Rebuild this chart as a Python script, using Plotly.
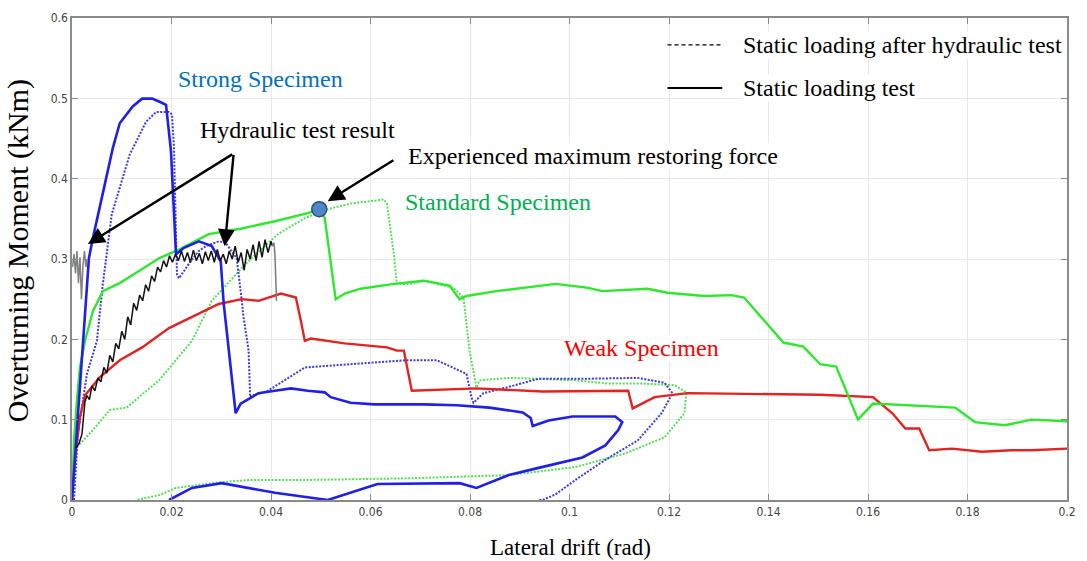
import plotly.graph_objects as go

# ---------------- data ----------------
strong_static_x = [0, 0.0022, 0.003, 0.0034, 0.0042, 0.0062, 0.0082, 0.0096, 0.0122, 0.0141, 0.0161, 0.0175, 0.0189,
                   0.0199, 0.0205, 0.0209, 0.0225, 0.0255, 0.0281, 0.0299, 0.0305, 0.0315, 0.0329, 0.0339, 0.0361,
                   0.0375, 0.0408, 0.044, 0.0474, 0.0508, 0.052, 0.056, 0.0608, 0.0707, 0.0773, 0.0839, 0.0906,
                   0.0922, 0.0926, 0.0958, 0.1006, 0.1092, 0.1106, 0.1098, 0.1072, 0.1026, 0.0938, 0.0878, 0.0813,
                   0.0779, 0.0614, 0.0514, 0.0408, 0.0301, 0.0241, 0.0195]
strong_static_y = [0, 0.2, 0.273, 0.301, 0.326, 0.384, 0.438, 0.469, 0.49, 0.4996, 0.4996, 0.496, 0.492,
                   0.434, 0.347, 0.306, 0.314, 0.322, 0.316, 0.297, 0.244, 0.186, 0.108, 0.12, 0.128,
                   0.133, 0.136, 0.139, 0.136, 0.134, 0.128, 0.121, 0.119, 0.119, 0.118, 0.115, 0.109,
                   0.102, 0.092, 0.099, 0.104, 0.104, 0.097, 0.087, 0.068, 0.053, 0.040, 0.031, 0.015,
                   0.021, 0.020, 0.0, 0.009, 0.021, 0.015, 0.0]

strong_hyd_x = [0.0004, 0.0012, 0.003, 0.005, 0.0062, 0.0076, 0.008, 0.01, 0.0116, 0.0129, 0.0149, 0.0169, 0.0195,
                0.0201, 0.0205, 0.0211, 0.0215, 0.0235, 0.0255, 0.0269, 0.0295, 0.0309, 0.0331, 0.0339, 0.0345,
                0.0355, 0.0358, 0.0362, 0.0394, 0.0468, 0.0574, 0.0673, 0.0733, 0.0759, 0.0793, 0.0803, 0.0807,
                0.0827, 0.0873, 0.0938, 0.1038, 0.1137, 0.1191, 0.1207, 0.1185, 0.1137, 0.1072, 0.1012, 0.0998,
                0.0972, 0.0946, 0.0936]
strong_hyd_y = [0, 0.083, 0.157, 0.198, 0.269, 0.338, 0.356, 0.397, 0.43, 0.446, 0.471, 0.483, 0.483,
                0.48, 0.438, 0.281, 0.276, 0.294, 0.31, 0.316, 0.322, 0.32, 0.301, 0.26, 0.227,
                0.186, 0.128, 0.13, 0.136, 0.165, 0.17, 0.174, 0.174, 0.167, 0.157, 0.128, 0.121,
                0.133, 0.14, 0.151, 0.151, 0.152, 0.146, 0.133, 0.108, 0.074, 0.05, 0.025, 0.019,
                0.007, 0.0, 0.0]

standard_static_x = [0, 0.0004, 0.001, 0.0016, 0.0026, 0.0042, 0.0062, 0.0096, 0.0129, 0.0175, 0.0209, 0.0275,
                     0.0341, 0.0408, 0.0474, 0.0498, 0.0508, 0.0524, 0.053, 0.0548, 0.058, 0.0647, 0.0707, 0.0759,
                     0.0779, 0.0793, 0.0853, 0.0972, 0.1038, 0.1066, 0.1157, 0.1197, 0.1271, 0.1325, 0.1351,
                     0.143, 0.147, 0.1504, 0.1536, 0.158, 0.161, 0.1775, 0.1815, 0.1875, 0.1928, 0.2]
standard_static_y = [0, 0.074, 0.124, 0.165, 0.198, 0.235, 0.26, 0.27, 0.283, 0.301, 0.31, 0.331,
                     0.338, 0.347, 0.357, 0.362, 0.351, 0.273, 0.25, 0.257, 0.263, 0.269, 0.273, 0.267,
                     0.25, 0.254, 0.26, 0.269, 0.264, 0.26, 0.263, 0.258, 0.254, 0.255, 0.252,
                     0.196, 0.191, 0.169, 0.166, 0.1, 0.12, 0.115, 0.097, 0.093, 0.1, 0.098]

standard_hyd_x = [0.001, 0.0042, 0.0076, 0.011, 0.0175, 0.0241, 0.0281, 0.0349, 0.0414, 0.0468, 0.0514, 0.056,
                  0.0627, 0.0633, 0.0647, 0.0653, 0.0679, 0.0707, 0.0767, 0.0787, 0.0799, 0.0807, 0.0813, 0.0819,
                  0.0878, 0.0932, 0.1012, 0.1078, 0.1145, 0.1211, 0.1235, 0.1231, 0.1191, 0.1112, 0.1012,
                  0.0878, 0.0679, 0.048, 0.036, 0.0295, 0.0209, 0.0175, 0.0129]
standard_hyd_y = [0.066, 0.087, 0.112, 0.115, 0.149, 0.198, 0.248, 0.294, 0.331, 0.351, 0.362, 0.369,
                  0.374, 0.369, 0.306, 0.269, 0.269, 0.273, 0.264, 0.252, 0.186, 0.161, 0.14, 0.149,
                  0.152, 0.151, 0.149, 0.145, 0.145, 0.143, 0.134, 0.108, 0.078, 0.058, 0.041,
                  0.031, 0.027, 0.025, 0.025, 0.022, 0.015, 0.006, 0.0]

weak_static_x = [0, 0.0002, 0.0008, 0.0016, 0.0026, 0.003, 0.0056, 0.0096, 0.0141, 0.0195, 0.0255, 0.0295,
                 0.0341, 0.0375, 0.042, 0.045, 0.046, 0.0468, 0.048, 0.0548, 0.0633, 0.0653, 0.0667, 0.0683,
                 0.0813, 0.0946, 0.1118, 0.1127, 0.1171, 0.1237, 0.1504, 0.161, 0.1649, 0.1675, 0.1703,
                 0.1723, 0.1769, 0.1829, 0.1888, 0.1928, 0.2]
weak_static_y = [0, 0.021, 0.062, 0.103, 0.13, 0.133, 0.153, 0.174, 0.19, 0.214, 0.232, 0.244,
                 0.25, 0.248, 0.257, 0.252, 0.223, 0.198, 0.201, 0.195, 0.19, 0.186, 0.186, 0.136,
                 0.139, 0.135, 0.136, 0.114, 0.128, 0.133, 0.131, 0.128, 0.108, 0.089, 0.089,
                 0.062, 0.064, 0.06, 0.062, 0.062, 0.064]

hydraulic_x = [0.0008, 0.0014, 0.002, 0.0026, 0.003, 0.0035, 0.004, 0.0046, 0.0052, 0.0058, 0.0064, 0.007,
               0.0076, 0.0082, 0.0088, 0.0094, 0.01, 0.0106, 0.0112, 0.0118, 0.0124, 0.013, 0.0136, 0.0142,
               0.0148, 0.0154, 0.016, 0.0166, 0.0172, 0.0178, 0.0184, 0.019, 0.0196, 0.0202, 0.0208, 0.0214,
               0.022, 0.0226, 0.0232, 0.0238, 0.0244, 0.025, 0.0256, 0.0262, 0.0268, 0.0274, 0.028, 0.0286,
               0.0292, 0.0298, 0.0304, 0.031, 0.0316, 0.0322, 0.0328, 0.0334, 0.034, 0.0346, 0.0352, 0.0358,
               0.0364, 0.037, 0.0376, 0.0382, 0.0388, 0.0394, 0.04, 0.0403]
hydraulic_y = [0.065, 0.07, 0.082, 0.122, 0.13, 0.125, 0.142, 0.136, 0.152, 0.147, 0.165, 0.158,
               0.18, 0.172, 0.195, 0.188, 0.21, 0.2, 0.228, 0.218, 0.245, 0.236, 0.255, 0.248,
               0.268, 0.26, 0.279, 0.272, 0.29, 0.284, 0.298, 0.29, 0.304, 0.296, 0.306, 0.298,
               0.31, 0.297, 0.308, 0.296, 0.311, 0.298, 0.307, 0.294, 0.309, 0.298, 0.31, 0.296,
               0.312, 0.298, 0.306, 0.294, 0.31, 0.3, 0.316, 0.296, 0.308, 0.286, 0.312, 0.3,
               0.318, 0.298, 0.322, 0.302, 0.324, 0.308, 0.322, 0.316]

hydraulic_tail_x = [0.0403, 0.0406, 0.0408, 0.041, 0.0411]
hydraulic_tail_y = [0.316, 0.32, 0.305, 0.27, 0.248]

hydraulic_left_x = [0.0001, 0.0004, 0.0007, 0.001, 0.0013, 0.0016, 0.0019, 0.0022, 0.0025, 0.0028, 0.003]
hydraulic_left_y = [0.29, 0.306, 0.282, 0.31, 0.27, 0.302, 0.25, 0.292, 0.31, 0.29, 0.3]

max_point_x = [0.0497]
max_point_y = [0.362]

x_ticks = [0, 0.02, 0.04, 0.06, 0.08, 0.1, 0.12, 0.14, 0.16, 0.18, 0.2]
x_tick_text = ["0", "0.02", "0.04", "0.06", "0.08", "0.1", "0.12", "0.14", "0.16", "0.18", "0.2"]
y_ticks = [0, 0.1, 0.2, 0.3, 0.4, 0.5, 0.6]
y_tick_text = ["0", "0.1", "0.2", "0.3", "0.4", "0.5", "0.6"]

BLUE = "#1f1fe6"
BLUE_D = "#3a3ae0"
GREEN = "#2ee82e"
GREEN_D = "#55e055"
RED = "#e32222"
SERIF = "Liberation Serif, Times New Roman, serif"
LABEL_SIZE = 24

fig = go.Figure()

def add_line(x, y, color, width, dash="solid"):
    fig.add_trace(go.Scatter(x=x, y=y, mode="lines", line=dict(color=color, width=width, dash=dash),
                             showlegend=False, hoverinfo="skip"))

add_line(standard_hyd_x, standard_hyd_y, GREEN_D, 2, "2px,1.5px")
add_line(strong_hyd_x, strong_hyd_y, BLUE_D, 2, "2px,1.5px")
add_line(weak_static_x, weak_static_y, RED, 2.4)
add_line(standard_static_x, standard_static_y, GREEN, 2.4)
add_line(strong_static_x, strong_static_y, BLUE, 2.6)
add_line(hydraulic_left_x, hydraulic_left_y, "#808080", 1.5)
add_line(hydraulic_x, hydraulic_y, "#111111", 1.5)
add_line(hydraulic_tail_x, hydraulic_tail_y, "#7a7a7a", 1.5)

fig.add_trace(go.Scatter(x=max_point_x, y=max_point_y, mode="markers",
                         marker=dict(size=15, color="#4f86c6", line=dict(color="#2b4f7e", width=1.5)),
                         showlegend=False, hoverinfo="skip"))

# ---------------- annotations ----------------
def label(text, x, y, color, size=LABEL_SIZE, bg=None):
    fig.add_annotation(x=x, y=y, xref="x", yref="y", text=text, showarrow=False, xanchor="left",
                       yanchor="middle", font=dict(family=SERIF, size=size, color=color),
                       bgcolor=bg, borderpad=0)

def arrow(x_head, y_head, x_tail, y_tail):
    fig.add_annotation(x=x_head, y=y_head, ax=x_tail, ay=y_tail, xref="x", yref="y", axref="x", ayref="y",
                       text="", showarrow=True, arrowhead=2, arrowsize=1.4, arrowwidth=2.4,
                       arrowcolor="#000000", standoff=0, startstandoff=0)

label("Strong Specimen", 0.0211, 0.524, "#0070C0")
label("Hydraulic test result", 0.0255, 0.46, "#000000")
label("Experienced maximum restoring force", 0.0673, 0.4277, "#000000", bg="white")
label("Standard Specimen", 0.0667, 0.3706, "#00B050")
label("Weak Specimen", 0.0986, 0.1897, "#FF0000", bg="white")

arrow(0.0032, 0.3186, 0.0325, 0.4314)
arrow(0.0307, 0.316, 0.0325, 0.4314)
arrow(0.0514, 0.372, 0.0649, 0.424)

# legend drawn by hand
label("Static loading after hydraulic test", 0.1347, 0.5665, "#000000", bg="white")
label("Static loading test", 0.1347, 0.5125, "#000000", bg="white")
fig.add_shape(type="line", xref="x", yref="y", x0=0.1197, x1=0.1307, y0=0.5665, y1=0.5665,
              line=dict(color="#000000", width=1.2, dash="4px,3px"))
fig.add_shape(type="line", xref="x", yref="y", x0=0.1197, x1=0.1307, y0=0.513, y1=0.513,
              line=dict(color="#000000", width=2))

# axis titles
fig.add_annotation(x=0.501, y=-0.099, xref="paper", yref="paper", text="Lateral drift (rad)",
                   xanchor="center", yanchor="middle",
                   showarrow=False, font=dict(family=SERIF, size=23, color="#000"))
fig.add_annotation(x=-0.054, y=0.5165, xref="paper", yref="paper", text="Overturning Moment (kNm)",
                   xanchor="center", yanchor="middle",
                   textangle=-90, showarrow=False, font=dict(family=SERIF, size=30, color="#000"))

tickfont = dict(family="Liberation Sans Narrow, Arial Narrow, DejaVu Sans Condensed, sans-serif",
                size=12, color="#444")
fig.update_xaxes(range=[0, 0.2], tickvals=x_ticks, ticktext=x_tick_text, showgrid=True, gridcolor="#e8e8e8",
                 gridwidth=1, zeroline=False, showline=True, linecolor="#8a8a8a", linewidth=1.5, mirror="ticks",
                 ticks="inside", ticklen=6, tickcolor="#8a8a8a", tickfont=tickfont)
fig.update_yaxes(range=[0, 0.6], tickvals=y_ticks, ticktext=y_tick_text, showgrid=True, gridcolor="#e8e8e8",
                 gridwidth=1, zeroline=False, showline=True, linecolor="#8a8a8a", linewidth=1.5, mirror="ticks",
                 ticks="inside", ticklen=6, tickcolor="#8a8a8a", tickfont=tickfont)

fig.update_layout(width=1087, height=561, margin=dict(l=72, r=11, t=16, b=61),
                  paper_bgcolor="white", plot_bgcolor="white", showlegend=False)

fig.write_html("out.html")
